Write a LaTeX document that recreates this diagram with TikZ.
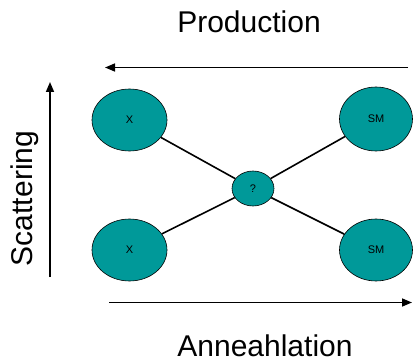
\documentclass[tikz,border=0pt]{standalone}
\usepackage{fontspec}
\setmainfont{Liberation Sans}
\usetikzlibrary{arrows.meta,shapes.geometric}
\definecolor{tealfill}{RGB}{0,153,153}
\begin{document}
\begin{tikzpicture}[x=1pt,y=-1pt,
  blob/.style={ellipse,draw=black,line width=0.6pt,fill=tealfill,inner sep=0pt,
    font=\fontsize{11}{13}\selectfont},
  big/.style={font=\fontsize{30}{36}\selectfont,inner sep=0pt},
  link/.style={line width=1.6pt},
  axis/.style={line width=1.6pt,-{Triangle[length=10pt,width=8pt]}}]
\useasboundingbox (0,0) rectangle (413,361);
\node[blob,minimum width=75pt,minimum height=62pt] (x1) at (129.5,120) {X};
\node[blob,minimum width=73pt,minimum height=64pt] (sm1) at (376,119) {SM};
\node[blob,minimum width=75pt,minimum height=62pt] (x2) at (129.5,250) {X};
\node[blob,minimum width=73pt,minimum height=62pt] (sm2) at (376,250) {SM};
\node[blob,minimum width=42pt,minimum height=35pt] (q) at (253,188.5) {?};
\draw[link] (x1) -- (q);
\draw[link] (q) -- (sm1);
\draw[link] (x2) -- (q);
\draw[link] (q) -- (sm2);
\coordinate (pa) at (408,67.5);
\coordinate (pb) at (105,67.5);
\draw[axis] (pa) -- (pb);
\coordinate (aa) at (109,302.5);
\coordinate (ab) at (412,302.5);
\draw[axis] (aa) -- (ab);
\coordinate (sa) at (50,277);
\coordinate (sb) at (50,82);
\draw[axis] (sa) -- (sb);
\node[big,anchor=base] (prod) at (249,33) {Production};
\node[big,anchor=base] (ann) at (265,356) {Anneahlation};
\node[big,anchor=base,rotate=90] (scat) at (32.5,198.5) {Scattering};
\end{tikzpicture}
\end{document}
